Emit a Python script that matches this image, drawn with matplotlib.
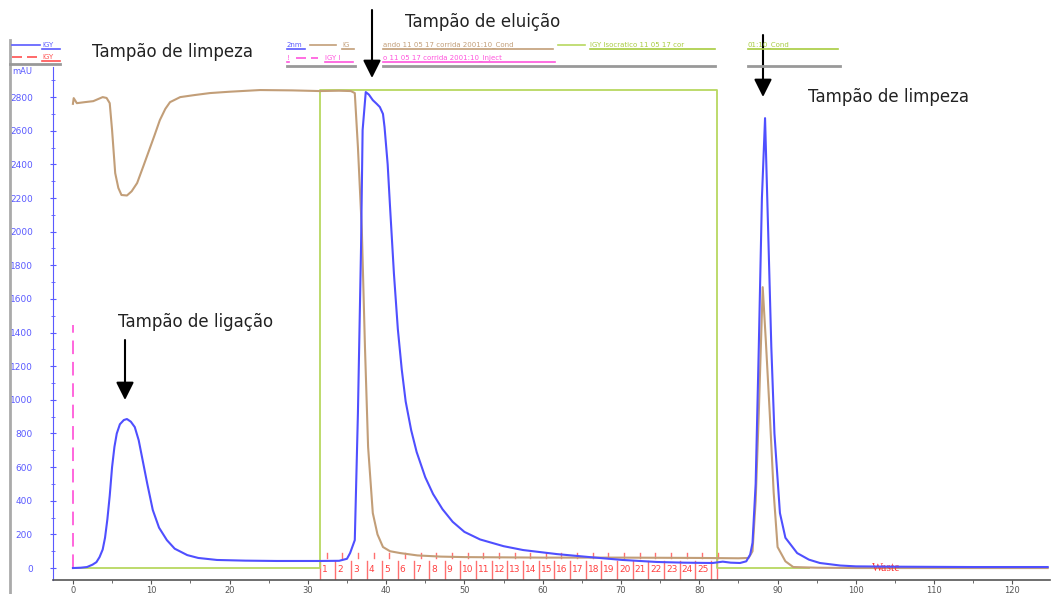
import matplotlib.pyplot as plt
from matplotlib.lines import Line2D
from matplotlib.ticker import MultipleLocator

# UV absorbance trace (mAU) vs volume (ml)
uv_x = [0, 1, 1.8, 2.5, 3.0, 3.4, 3.8, 4.1, 4.4, 4.7, 5.0, 5.3, 5.6, 6.0, 6.5, 6.9, 7.4,
        7.9, 8.4, 8.9, 9.5, 10.2, 11, 12, 13, 14.6, 16, 18.4, 22, 26, 31.5, 34, 35,
        35.4, 36.0, 36.4, 36.8, 37.0, 37.4, 37.8, 38.3, 38.8, 39.2, 39.6, 39.8, 40.2,
        40.5, 41.0, 41.5, 42.0, 42.5, 43.2, 43.9, 45.0, 46.0, 47.2, 48.5, 50, 52, 55,
        57.5, 61.8, 66, 70.2, 74.6, 78, 81.7, 83, 84, 85.2, 86, 86.5, 86.8, 87.2, 87.6,
        88.0, 88.4, 88.8, 89.2, 89.6, 90.3, 91, 92.5, 94, 95.4, 98, 100, 105, 110, 115,
        120, 124.5]
uv_y = [0, 2, 6, 20, 35, 65, 110, 180, 290, 430, 600, 720, 800, 855, 880, 886, 870,
        838, 760, 642, 500, 345, 240, 166, 115, 77, 60, 48, 44, 42, 42, 43, 55,
        89, 166, 920, 1910, 2604, 2830, 2815, 2782, 2760, 2741, 2700, 2622, 2400,
        2150, 1750, 1420, 1180, 990, 820, 690, 540, 440, 350, 275, 215, 170, 130,
        107, 83, 65, 48, 36, 32, 30, 38, 32, 30, 40, 80, 150, 500, 1314,
        2200, 2675, 2000, 1314, 800, 327, 180, 89, 50, 30, 15, 10, 8, 7, 6,
        6, 6]

# conductivity trace
cond_x = [0, 0.1, 0.5, 1.5, 2.6, 3.8, 4.3, 4.7, 5.0, 5.4, 5.8, 6.2, 6.9, 7.5, 8.2, 9.0,
          9.6, 10.4, 11.1, 11.8, 12.4, 13.7, 15.5, 17.5, 20, 23.9, 28, 31.5, 34, 35.5,
          36.0, 36.4, 36.9, 37.3, 37.7, 38.3, 38.9, 39.6, 40.5, 41.8, 44, 47, 50, 60,
          70, 80, 85, 86.3, 86.8, 87.2, 87.6, 88.1, 88.5, 89.0, 89.5, 90.0, 91, 92,
          95, 100, 110, 124.5]
cond_y = [2760, 2794, 2764, 2770, 2776, 2800, 2795, 2764, 2604, 2348, 2260, 2218, 2215,
          2240, 2289, 2390, 2467, 2570, 2663, 2730, 2770, 2800, 2812, 2824, 2832, 2842,
          2840, 2836, 2838, 2836, 2824, 2503, 2009, 1314, 720, 327, 200, 125, 100, 89,
          75, 68, 65, 62, 62, 60, 58, 60, 100, 400, 920, 1670, 1350, 920, 450, 125,
          40, 6, 2, 0, 0, 0]

# concentration (step elution)
conc_x = [0, 31.5, 31.5, 82.3, 82.3, 94]
conc_y = [0, 0, 2842, 2842, 0, 0]

# injection mark
inj_x = [0, 0]
inj_y = [0, 1445]

# fractions
frac_start = 31.5
frac_width = 2.0
frac_labels = [str(i) for i in range(1, 26)]

fig = plt.figure(figsize=(10.55, 5.94), dpi=100)
ax = fig.add_axes([0.0502, 0.0236, 0.9451, 0.8636])


def px(x, y):
    return (x / 1055, 1 - y / 594)


ax.plot(conc_x, conc_y, color='#b8d860', lw=1.3, zorder=2)
ax.plot(inj_x, inj_y, color='#ff66dd', lw=1.4, dashes=(7, 4), zorder=2)
ax.plot(cond_x, cond_y, color='#c29e78', lw=1.5, zorder=3)
ax.plot(uv_x, uv_y, color='#4f4fff', lw=1.5, zorder=4)

# fraction marks
bounds = [frac_start + frac_width * k for k in range(len(frac_labels) + 1)]
for b in bounds:
    ax.plot([b, b], [-71, 40], color='#ff7070', lw=1.0, zorder=1)
    ax.plot([b + 0.9, b + 0.9], [62, 92], color='#ff7070', lw=1.0, zorder=1)
for b, lab in zip(bounds, frac_labels):
    ax.text(b + 0.25, -8, lab, color='#ff4040', fontsize=6.5, ha='left', va='center')
ax.plot([82.3, 82.3], [-71, 80], color='#ff7070', lw=1.0, zorder=1)
ax.text(102, 0, 'Waste', color='#ff3030', fontsize=8.5, family='Liberation Serif',
        va='center', ha='left')

ax.set_xlim(-2.55, 124.8)
ax.set_ylim(-71, 2979)
for s in ['top', 'right']:
    ax.spines[s].set_visible(False)
ax.spines['left'].set_color('#5a5aff')
ax.spines['bottom'].set_color('#555555')
ax.spines['bottom'].set_linewidth(1.2)

ax.yaxis.set_major_locator(MultipleLocator(200))
ax.yaxis.set_minor_locator(MultipleLocator(100))
ax.xaxis.set_major_locator(MultipleLocator(10))
ax.xaxis.set_minor_locator(MultipleLocator(5))
ax.set_yticks(range(0, 2801, 200))
ax.tick_params(axis='y', which='major', direction='inout', length=5, color='#5a5aff',
               labelcolor='#5a5aff', labelsize=6.5, pad=12)
ax.tick_params(axis='y', which='minor', direction='inout', length=3, color='#5a5aff')
ax.tick_params(axis='x', which='major', direction='out', length=3, color='#555555',
               labelcolor='#555555', labelsize=6, pad=1)
ax.tick_params(axis='x', which='minor', direction='out', length=2, color='#555555')

fig.text(*px(12, 72), 'mAU', color='#5a5aff', fontsize=6, va='center')
fig.add_artist(Line2D([10 / 1055, 10 / 1055], [0, 1 - 40 / 594], color='#aaaaaa', lw=2))


# clipped legend fragments at the top
def leg_line(x0, x1, y, color, dashed=False):
    ln = Line2D([x0 / 1055, x1 / 1055], [1 - y / 594] * 2, color=color, lw=1.2)
    if dashed:
        ln.set_dashes((6, 3))
    fig.add_artist(ln)


def leg_text(x, y, s, color, width):
    fig.text(*px(x, y), s, color=color, fontsize=5, va='center', ha='left')
    leg_line(x, x + width, y + 4, color)


leg_line(12, 40, 45, '#5a5aff')
leg_text(42, 45, 'IGY', '#5a5aff', 18)
leg_line(12, 40, 57, '#ff5050', dashed=True)
leg_text(42, 57, 'IGY', '#ff5050', 18)
fig.add_artist(Line2D([10 / 1055, 60 / 1055], [1 - 64 / 594] * 2, color='#999999', lw=2))

leg_text(287, 45, '2nm', '#5a5aff', 18)
leg_line(310, 336, 45, '#c29e78')
leg_text(342, 45, 'IG', '#c29e78', 12)
leg_text(287, 58, '!', '#ff55dd', 2)
leg_line(296, 318, 58, '#ff55dd', dashed=True)
leg_text(325, 58, 'IGY I', '#ff55dd', 28)
fig.add_artist(Line2D([287 / 1055, 355 / 1055], [1 - 66 / 594] * 2, color='#999999', lw=2))

leg_text(383, 45, 'ando 11 05 17 corrida 2001:10_Cond', '#c29e78', 170)
leg_line(558, 585, 45, '#b8d860')
leg_text(590, 45, 'IGY Isocratico 11 05 17 cor', '#a8cc40', 125)
leg_text(383, 58, 'o 11 05 17 corrida 2001:10_Inject', '#ff55dd', 172)
fig.add_artist(Line2D([383 / 1055, 715 / 1055], [1 - 66 / 594] * 2, color='#999999', lw=2))
leg_text(748, 45, '01:10_Cond', '#a8cc40', 90)
fig.add_artist(Line2D([748 / 1055, 840 / 1055], [1 - 66 / 594] * 2, color='#999999', lw=2))

# buffer annotations
fs = 12
fig.text(*px(92, 52), 'Tampão de limpeza', fontsize=fs, va='center', ha='left', color='#222222')
fig.text(*px(405, 22), 'Tampão de eluição', fontsize=fs, va='center', ha='left', color='#222222')
fig.text(*px(808, 97), 'Tampão de limpeza', fontsize=fs, va='center', ha='left', color='#222222')
fig.text(*px(118, 322), 'Tampão de ligação', fontsize=fs, va='center', ha='left', color='#222222')

arrow = dict(arrowstyle='-|>,head_length=0.6,head_width=0.3', color='black', lw=1.5,
             mutation_scale=18, shrinkA=0, shrinkB=0)
for (x, y0, y1) in [(372, 10, 78), (763, 35, 97), (125, 340, 400)]:
    ax.annotate('', xy=px(x, y1), xytext=px(x, y0), xycoords='figure fraction',
                textcoords='figure fraction', arrowprops=arrow)

fig.savefig('out.png', dpi=100)
